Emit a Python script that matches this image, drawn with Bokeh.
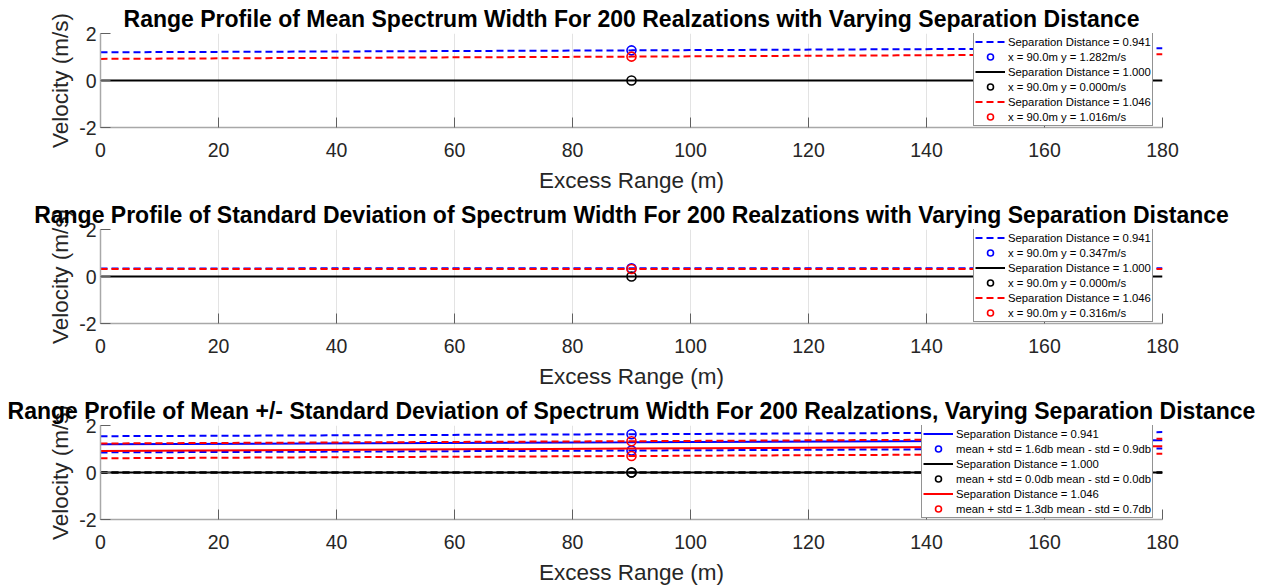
from bokeh.plotting import figure
from bokeh.layouts import column
from bokeh.models import FixedTicker, Legend, LegendItem, Range1d
from bokeh.embed import file_html
from bokeh.resources import INLINE

# ---- data ----
range_m = [0, 45, 90, 135, 180]
sep_labels = ["0.941", "1.000", "1.046"]
colors = ["#0000ff", "#000000", "#ff0000"]

mean_sw = {
    "0.941": [1.20, 1.24, 1.282, 1.33, 1.37],
    "1.000": [0.0, 0.0, 0.0, 0.0, 0.0],
    "1.046": [0.92, 0.97, 1.016, 1.07, 1.12],
}
std_sw = {
    "0.941": [0.345, 0.346, 0.347, 0.348, 0.349],
    "1.000": [0.0, 0.0, 0.0, 0.0, 0.0],
    "1.046": [0.314, 0.315, 0.316, 0.317, 0.318],
}
marker_idx = 2  # x = 90 m

titles = [
    "Range Profile of Mean Spectrum Width For 200 Realzations with Varying Separation Distance",
    "Range Profile of Standard Deviation of Spectrum Width For 200 Realzations with Varying Separation Distance",
    "Range Profile of Mean +/- Standard Deviation of Spectrum Width For 200 Realzations, Varying Separation Distance",
]
x_ticks = [0, 20, 40, 60, 80, 100, 120, 140, 160, 180]
y_ticks = [-2, 0, 2]
y_tick_labels = {-2: "-2", 0: "0", 2: "2"}

FONT = "Liberation Sans"
TXT = "#262626"
DASH = "7 4"


def make_fig(title, bottom):
    p = figure(frame_width=1062, frame_height=94,
               x_range=Range1d(0, 180), y_range=Range1d(-2, 2),
               output_backend="svg", toolbar_location=None,
               min_border_left=100, min_border_right=100,
               min_border_top=33, min_border_bottom=bottom)
    p.title.text = title
    p.title.text_font = FONT
    p.title.text_font_size = "23px"
    p.title.text_font_style = "bold"
    p.title.text_color = "#000000"
    p.title.align = "center"
    p.title.standoff = 4
    p.outline_line_color = None
    for ax in (p.xaxis[0], p.yaxis[0]):
        ax.major_label_text_font = FONT
        ax.major_label_text_font_size = "19.5px"
        ax.major_label_text_color = TXT
        ax.axis_label_text_font = FONT
        ax.axis_label_text_font_size = "22.5px"
        ax.axis_label_text_font_style = "normal"
        ax.axis_label_text_color = TXT
        ax.axis_line_color = "#a8a8a8"
        ax.axis_line_width = 1.5
        ax.major_tick_line_color = "#606060"
        ax.major_tick_in = 10
        ax.major_tick_out = 0
        ax.minor_tick_line_color = None
    p.xaxis.ticker = FixedTicker(ticks=x_ticks)
    p.yaxis.ticker = FixedTicker(ticks=y_ticks)
    p.yaxis.major_label_overrides = y_tick_labels
    p.xaxis.axis_label = "Excess Range (m)"
    p.yaxis.axis_label = "Velocity (m/s)"
    p.xaxis.major_label_standoff = 15
    p.xaxis.axis_label_standoff = 8
    p.yaxis.major_label_standoff = 4
    p.yaxis.axis_label_standoff = 3
    p.xgrid.grid_line_color = "#e3e3e3"
    p.ygrid.grid_line_color = "#e3e3e3"
    return p


def style_legend(items, left):
    return Legend(items=items, location=(left, 1),
                  label_text_font=FONT, label_text_font_size="11.3px",
                  label_text_color="#000000",
                  glyph_width=30, glyph_height=15, label_height=15,
                  spacing=0, padding=1, margin=0, label_standoff=3,
                  border_line_color="#262626", border_line_width=1,
                  background_fill_color="white", background_fill_alpha=1)


def circle(p, xs, ys, color):
    return p.scatter(xs, ys, marker="circle", size=9, fill_color=None,
                     line_color=color, line_width=1.6)


# ---- panel 1: mean ----
p1 = make_fig(titles[0], 69)
items = []
for lab, c in zip(sep_labels, colors):
    ys = mean_sw[lab]
    dash = "solid" if lab == "1.000" else DASH
    ln = p1.line(range_m, ys, line_color=c, line_width=2, line_dash=dash)
    mk = circle(p1, [range_m[marker_idx]], [ys[marker_idx]], c)
    items.append(LegendItem(label="Separation Distance = " + lab, renderers=[ln]))
    items.append(LegendItem(label="x = %.1fm y = %.3fm/s" % (range_m[marker_idx], ys[marker_idx]), renderers=[mk]))
p1.add_layout(style_legend(items, 873))

# ---- panel 2: std ----
p2 = make_fig(titles[1], 69)
items = []
for lab, c in zip(sep_labels, colors):
    ys = std_sw[lab]
    dash = "solid" if lab == "1.000" else DASH
    ln = p2.line(range_m, ys, line_color=c, line_width=2, line_dash=dash)
    mk = circle(p2, [range_m[marker_idx]], [ys[marker_idx]], c)
    items.append(LegendItem(label="Separation Distance = " + lab, renderers=[ln]))
    items.append(LegendItem(label="x = %.1fm y = %.3fm/s" % (range_m[marker_idx], ys[marker_idx]), renderers=[mk]))
p2.add_layout(style_legend(items, 873))

# ---- panel 3: mean +/- std ----
p3 = make_fig(titles[2], 66)
items = []
for lab, c in zip(sep_labels, colors):
    m = mean_sw[lab]
    s = std_sw[lab]
    up = [a + b for a, b in zip(m, s)]
    lo = [a - b for a, b in zip(m, s)]
    ln = p3.line(range_m, m, line_color=c, line_width=2)
    p3.line(range_m, up, line_color=c, line_width=2, line_dash=DASH)
    p3.line(range_m, lo, line_color=c, line_width=2, line_dash=DASH)
    mk = circle(p3, [range_m[marker_idx]] * 2, [up[marker_idx], lo[marker_idx]], c)
    items.append(LegendItem(label="Separation Distance = " + lab, renderers=[ln]))
    items.append(LegendItem(label="mean + std = %.1fdb mean - std = %.1fdb" % (up[marker_idx], lo[marker_idx]), renderers=[mk]))
p3.add_layout(style_legend(items, 821))

layout = column(p1, p2, p3, spacing=0)
open("out.html", "w").write(file_html(layout, INLINE))
